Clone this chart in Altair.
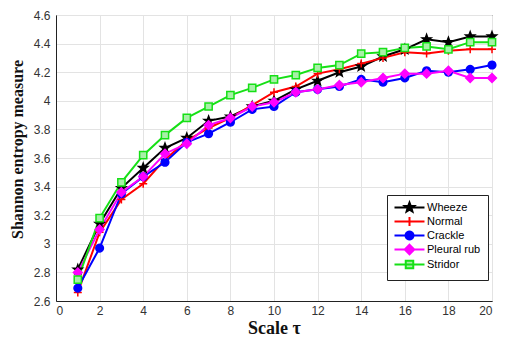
import math
import altair as alt
import pandas as pd

scale_tau = list(range(1, 21))
wheeze = [2.82, 3.14, 3.39, 3.53, 3.67, 3.74, 3.86, 3.89, 3.96, 4.00,
          4.08, 4.14, 4.20, 4.24, 4.31, 4.36, 4.43, 4.41, 4.45, 4.45]
normal = [2.66, 3.08, 3.31, 3.42, 3.59, 3.72, 3.81, 3.88, 3.97, 4.06,
          4.10, 4.19, 4.22, 4.26, 4.30, 4.34, 4.33, 4.35, 4.36, 4.36]
crackle = [2.69, 2.97, 3.35, 3.47, 3.57, 3.71, 3.77, 3.85, 3.94, 3.96,
           4.06, 4.08, 4.10, 4.15, 4.13, 4.16, 4.21, 4.20, 4.22, 4.25]
pleural_rub = [2.80, 3.10, 3.36, 3.47, 3.63, 3.70, 3.83, 3.88, 3.96, 3.99,
               4.06, 4.08, 4.11, 4.13, 4.16, 4.19, 4.19, 4.21, 4.16, 4.16]
stridor = [2.75, 3.18, 3.43, 3.62, 3.76, 3.88, 3.96, 4.04, 4.09, 4.15,
           4.18, 4.23, 4.25, 4.33, 4.34, 4.37, 4.38, 4.36, 4.41, 4.41]

series_names = ["Wheeze", "Normal", "Crackle", "Pleural rub", "Stridor"]
series_values = [wheeze, normal, crackle, pleural_rub, stridor]
x_ticks = list(range(0, 21, 2))
y_ticks = [2.6, 2.8, 3.0, 3.2, 3.4, 3.6, 3.8, 4.0, 4.2, 4.4, 4.6]

line_colors = ["#000000", "#ff0000", "#0000ff", "#ff00ff", "#16e016"]
fill_colors = ["#000000", "#ff0000", "#0000ff", "#ff00ff", "#a8f0a8"]


def star(cx, r):
    pts = []
    for i in range(10):
        a = -math.pi / 2 + i * math.pi / 5
        rr = r if i % 2 == 0 else r * 0.42
        pts.append((cx + rr * math.cos(a), rr * math.sin(a)))
    return "M" + "L".join(f"{x:.3f},{y:.3f}" for x, y in pts) + "Z"


def plus(cx, r):
    return f"M{cx - r:.3f},0H{cx + r:.3f}M{cx:.3f},{-r:.3f}V{r:.3f}"


def circle(cx, r):
    pts = [(cx + r * math.cos(i * math.pi / 10), r * math.sin(i * math.pi / 10)) for i in range(20)]
    return "M" + "L".join(f"{x:.3f},{y:.3f}" for x, y in pts) + "Z"


def diamond(cx, r):
    return f"M{cx:.3f},{-r:.3f}L{cx + r:.3f},0L{cx:.3f},{r:.3f}L{cx - r:.3f},0Z"


def square(cx, r):
    return f"M{cx - r:.3f},{-r:.3f}H{cx + r:.3f}V{r:.3f}H{cx - r:.3f}Z"


point_shapes = [star(0, 1.2), plus(0, 1.0), circle(0, 0.95), diamond(0, 1.1), square(0, 0.9)]

# legend symbols: scale unit = sqrt(36)/2 = 3 px
u = 5.0 / 3.0
lc = 2.0 * u
legend_shapes = [f"M{-1 * u:.3f},0H{5 * u:.3f}" + s for s in
                 [star(lc, 1.0 * u), plus(lc, 0.9 * u), circle(lc, 0.8 * u),
                  diamond(lc, 0.95 * u), square(lc, 0.75 * u)]]

rows = []
for name, vals in zip(series_names, series_values):
    for t, v in zip(scale_tau, vals):
        rows.append({"tau": t, "value": v, "series": name})
df = pd.DataFrame(rows)

x_enc = alt.X("tau:Q", scale=alt.Scale(domain=[0, 20], nice=False),
              axis=alt.Axis(values=x_ticks, title="Scale τ", grid=True, ticks=False,
                            labelPadding=4, labelFontSize=12, labelColor="#333333",
                            labelFont="Liberation Sans", titleFont="Liberation Serif",
                            titleFontWeight="bold", titleFontSize=18, titleColor="#111111",
                            titlePadding=3, domainColor="#222222", gridColor="#e3e3e3"))
y_enc = alt.Y("value:Q", scale=alt.Scale(domain=[2.6, 4.6], nice=False, zero=False),
              axis=alt.Axis(values=y_ticks, format="~g", title="Shannon entropy measure",
                            grid=True, ticks=False, labelPadding=6, labelFontSize=12,
                            labelColor="#333333", labelFont="Liberation Sans",
                            titleFont="Liberation Serif", titleFontWeight="bold",
                            titleFontSize=16, titleColor="#111111", titlePadding=8,
                            titleY=134, domainColor="#222222", gridColor="#e3e3e3"))

stroke_scale = alt.Scale(domain=series_names, range=line_colors)
fill_scale = alt.Scale(domain=series_names, range=fill_colors)

base = alt.Chart(df)

lines = base.mark_line(strokeWidth=2, opacity=1).encode(
    x=x_enc, y=y_enc,
    stroke=alt.Stroke("series:N", scale=stroke_scale, legend=None),
)

points = base.mark_point(filled=True, size=64, strokeWidth=1.5, opacity=1).encode(
    x=x_enc, y=y_enc,
    stroke=alt.Stroke("series:N", scale=stroke_scale, legend=None),
    fill=alt.Fill("series:N", scale=fill_scale, legend=None),
    shape=alt.Shape("series:N", scale=alt.Scale(domain=series_names, range=point_shapes), legend=None),
)

leg = alt.Legend(title=None, orient="none", legendX=331, legendY=180,
                 labelFont="Liberation Sans", labelFontSize=11, labelColor="#000000",
                 symbolSize=36, symbolStrokeWidth=2, labelOffset=22, rowPadding=-4,
                 padding=7, strokeColor="#222222", fillColor="#ffffff", cornerRadius=0)

legend_layer = base.mark_point(filled=True, size=36, strokeWidth=2, opacity=1).encode(
    x=x_enc, y=y_enc,
    stroke=alt.Stroke("series:N", scale=stroke_scale, legend=leg),
    fill=alt.Fill("series:N", scale=fill_scale, legend=leg),
    shape=alt.Shape("series:N", scale=alt.Scale(domain=series_names, range=legend_shapes), legend=leg),
).transform_filter("false")

chart = alt.layer(lines, points, legend_layer).resolve_scale(
    stroke="independent", fill="independent", shape="independent"
).properties(
    width=436, height=286,
    autosize=alt.AutoSizeParams(type="none"),
    padding={"left": 48, "top": 7, "right": 7, "bottom": 38},
).configure_view(stroke="#222222", strokeWidth=1)

chart.save("out.html", embed_options={"renderer": "svg", "actions": False})
